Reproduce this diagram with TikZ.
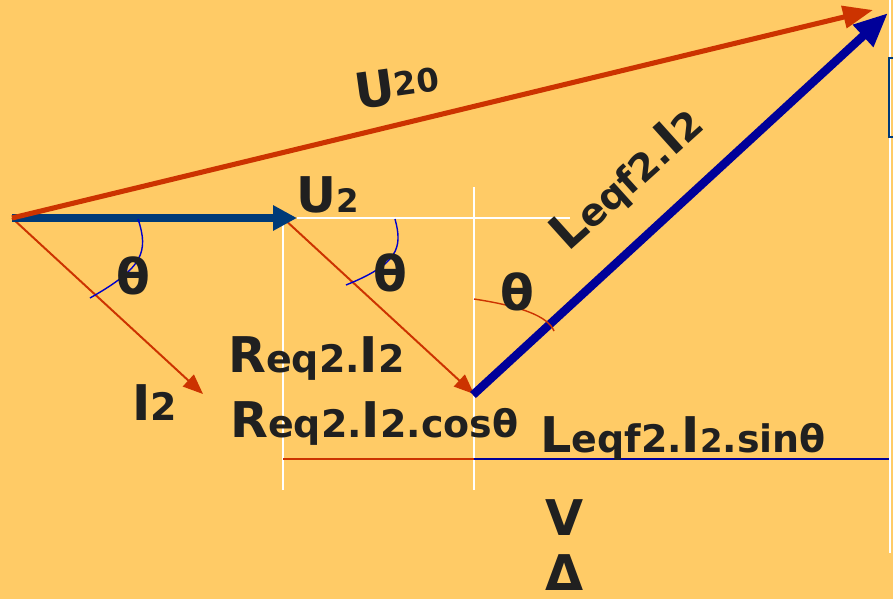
\documentclass[tikz,border=0pt]{standalone}
\usepackage{fontspec}
\setmainfont{DejaVu Sans}
\usetikzlibrary{arrows.meta,positioning}

\definecolor{bgyellow}{HTML}{FFCB66}
\definecolor{vecred}{HTML}{CC3300}
\definecolor{vecnavy}{HTML}{003A78}
\definecolor{vecblue}{HTML}{000099}
\definecolor{arcblue}{HTML}{0000CC}
\definecolor{txtdark}{HTML}{202020}
\newcommand{\bigf}{\fontsize{35}{37}\selectfont\bfseries}
\newcommand{\smf}{\fontsize{27}{29}\selectfont\bfseries}
\newcommand{\tinyf}{\fontsize{23}{25}\selectfont\bfseries}

\begin{document}
\begin{tikzpicture}[
    x=0.25mm, y=-0.25mm,
    bigvec/.style={line width=3.6pt, color=vecred, -{Triangle[length=7.5mm,width=5.5mm]}},
    navyvec/.style={line width=5pt, color=vecnavy, -{Triangle[length=6mm,width=6mm]}},
    bluevec/.style={line width=6pt, color=vecblue, -{Triangle[length=8.5mm,width=7mm]}},
    thinvec/.style={line width=1.4pt, color=vecred, -{Triangle[length=5mm,width=4mm]}},
    guide/.style={line width=1.4pt, white},
    anglearc/.style={line width=1pt, arcblue},
    lbl/.style={inner sep=0pt, text=txtdark, font=\bigf},
    lblbase/.style={lbl, anchor=base west}
]
\fill[bgyellow] (0,0) rectangle (893,599);
\useasboundingbox (0,0) rectangle (893,599);

\coordinate (O) at (12,218);
\coordinate (U2tip) at (297,218);
\coordinate (U20tip) at (873,10);
\coordinate (I2tip) at (203,394);
\coordinate (Rtip) at (474,394);
\coordinate (Ltip) at (888,13);
\coordinate (base1) at (283,459);
\coordinate (base2) at (474,459);
\coordinate (base3) at (889,459);

% guide lines
\draw[guide] (283,218) -- (283,490);
\draw[guide] (474,187) -- (474,490);
\draw[guide] (U2tip) -- (570,218);
\draw[guide] (890,0) -- (890,553);
\draw[line width=1.4pt, color=vecnavy] (889,58) rectangle (905,137);

\draw[line width=1.7pt, vecred] (base1) -- (base2);
\draw[line width=1.7pt, vecblue] (base2) -- (base3);

% vectors
\draw[thinvec] (O) -- (I2tip);
\draw[thinvec] (283,218) -- (Rtip);
\draw[navyvec] (O) -- (U2tip);
\draw[bigvec] (O) -- (U20tip);
\draw[bluevec, shorten <=-1pt] (Rtip) -- (Ltip);

% angles
\draw[anglearc] (138,219) .. controls (149,252) and (143,268) .. (90,298);
\draw[anglearc] (395,219) .. controls (403,248) and (398,264) .. (346,285);
\draw[line width=1pt, vecred] (474,299) .. controls (520,306) and (548,316) .. (554,331);

% labels
\node[lbl, rotate=8] (u20) at (397,86) {U\raisebox{5pt}{\tinyf 20}};
\node[lblbase] (u2) at (296,212) {U{\tinyf 2}};
\node[lbl, rotate=42] (lqi) at (628,180) {L{\smf eqf2.}I{\smf 2}};
\node[lbl] (th1) at (133,276) {θ};
\node[lbl] (th2) at (390,273) {θ};
\node[lbl] (th3) at (517,292) {θ};
\node[lblbase] (ri) at (228,372) {R{\smf eq2.}I{\smf 2}};
\node[lblbase] (i2) at (132,420) {I{\smf 2}};
\node[lblbase] (ricos) at (230,437) {R{\smf eq2.}I{\smf 2.cosθ}};
\node[lblbase] (lisin) at (540,452) {L{\smf eqf2.}I{\tinyf 2}{\smf .sinθ}};
\node[lbl] (vv) at (565,518) {V};
\node[lbl] (dd) at (565,573) {Δ};
\end{tikzpicture}
\end{document}
